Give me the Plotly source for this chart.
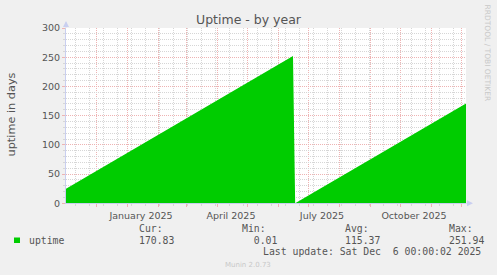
import plotly.graph_objects as go
import pandas as pd

# ---- data ----
dates = ["2024-11-01 00:00", "2025-06-16 00:00", "2025-06-17 00:00",
         "2025-06-18 04:00", "2025-12-06 00:00"]
uptime = [25.0, 251.94, None, 0.01, 170.83]

x_start = "2024-11-01 00:00"
x_end = "2025-12-06 00:00"

label_dates = ["2025-01-15", "2025-04-15", "2025-07-15", "2025-10-15"]
label_text = ["January 2025", "April 2025", "July 2025", "October 2025"]

month_starts = [d.strftime("%Y-%m-%d") for d in pd.date_range("2024-12-01", "2025-12-01", freq="MS")]
biweekly = [d.strftime("%Y-%m-%d") for d in pd.date_range("2024-11-10", "2025-12-06", freq="14D")]

stat_names = ["Cur:", "Min:", "Avg:", "Max:"]
stat_values = ["170.83", "  0.01", "115.37", "251.94"]
series_name = "uptime"
last_update = "Last update: Sat Dec  6 00:00:02 2025"

W, H = 497, 275
def px(x):
    return x / W
def py(y):
    return 1 - y / H

GREEN = "#00CC00"
TXT = "#555555"
RED_GRID = "#eeb3b3"
GRAY_GRID = "#d6d6d6"
AXIS = "#c9cff0"

fig = go.Figure()
fig.add_trace(go.Scatter(
    x=dates, y=uptime, mode="lines", fill="tozeroy",
    fillcolor=GREEN, line=dict(color=GREEN, width=0),
    connectgaps=False, showlegend=False, hoverinfo="skip"))

x_dom = [px(66), px(466)]
y_dom = [py(203.3), py(28)]

fig.update_layout(
    width=W, height=H,
    margin=dict(l=0, r=0, t=0, b=0, pad=0, autoexpand=False),
    paper_bgcolor="#F0F0F0", plot_bgcolor="#FFFFFF",
    showlegend=False,
    font=dict(family="DejaVu Sans", color=TXT),
    xaxis=dict(
        type="date", domain=x_dom, range=[x_start, x_end],
        tickmode="array", tickvals=label_dates, ticktext=label_text,
        ticks="", showgrid=False, zeroline=False, automargin=False,
        showline=True, linecolor=AXIS, linewidth=1,
        tickfont=dict(size=9.5, color=TXT, family="DejaVu Sans"),
        ticklabelstandoff=3,
        minor=dict(tickmode="array", tickvals=month_starts, showgrid=True,
                   gridcolor=RED_GRID, griddash="1px,1px", gridwidth=1,
                   ticks="outside", ticklen=3, tickcolor=RED_GRID),
    ),
    xaxis2=dict(
        type="date", domain=x_dom, range=[x_start, x_end], overlaying="x",
        anchor="y", side="bottom", automargin=False,
        tickmode="array", tickvals=biweekly, showticklabels=False,
        showgrid=True, gridcolor=GRAY_GRID, griddash="1px,1px", gridwidth=1,
        ticks="outside", ticklen=2, tickcolor=GRAY_GRID, zeroline=False,
        showline=False,
    ),
    yaxis=dict(
        domain=y_dom, range=[0, 300], tickmode="linear", tick0=0, dtick=50,
        showgrid=True, gridcolor=RED_GRID, griddash="1px,1px", gridwidth=1,
        ticks="outside", ticklen=3, tickcolor=RED_GRID, zeroline=False,
        showline=True, linecolor=AXIS, linewidth=1, automargin=False,
        tickfont=dict(size=9.5, color=TXT, family="DejaVu Sans"),
        minor=dict(dtick=10, tick0=0, showgrid=True, gridcolor=GRAY_GRID,
                   griddash="1px,1px", gridwidth=1,
                   ticks="outside", ticklen=2, tickcolor=GRAY_GRID),
    ),
)
# invisible trace on xaxis2 so its grid renders
fig.add_trace(go.Scatter(x=[x_start], y=[None], xaxis="x2", yaxis="y",
                         showlegend=False, hoverinfo="skip"))

ann = []
ann.append(dict(text="Uptime - by year", x=px(248.5), y=py(19.5), xref="paper", yref="paper",
                xanchor="center", yanchor="middle", showarrow=False,
                font=dict(size=12.5, color=TXT, family="DejaVu Sans")))
ann.append(dict(text="uptime in days", x=px(10.5), y=py(115), xref="paper", yref="paper",
                xanchor="center", yanchor="middle", showarrow=False, textangle=-90,
                font=dict(size=11.3, color=TXT, family="DejaVu Sans")))
ann.append(dict(text="RRDTOOL / TOBI OETIKER", x=px(487.5), y=py(53), xref="paper", yref="paper",
                xanchor="center", yanchor="middle", showarrow=False, textangle=90,
                font=dict(size=7.5, color="#c8c8c8", family="DejaVu Sans")))
ann.append(dict(text="Munin 2.0.73", x=px(248), y=py(264.5), xref="paper", yref="paper",
                xanchor="center", yanchor="middle", showarrow=False,
                font=dict(size=7, color="#c8c8c8", family="DejaVu Sans")))

MONO = dict(size=9.8, color=TXT, family="DejaVu Sans Mono")
col_x = [136.7, 240.0, 343.3, 447.3]
for cx, name, val in zip(col_x, stat_names, stat_values):
    ann.append(dict(text=name, x=px(cx), y=py(228), xref="paper", yref="paper",
                    xanchor="left", yanchor="middle", showarrow=False, font=MONO))
    ann.append(dict(text=val.replace(" ", "\u00a0"), x=px(cx), y=py(240), xref="paper", yref="paper",
                    xanchor="left", yanchor="middle", showarrow=False, font=MONO))
ann.append(dict(text=series_name, x=px(26.7), y=py(240), xref="paper", yref="paper",
                xanchor="left", yanchor="middle", showarrow=False, font=MONO))
ann.append(dict(text=last_update.replace(" ", "\u00a0"), x=px(482.5), y=py(251.5),
                xref="paper", yref="paper", xanchor="right", yanchor="middle",
                showarrow=False, font=MONO))
# axis arrows
ann.append(dict(text="", x=px(66), y=py(21), xref="paper", yref="paper",
                ax=0, ay=8, showarrow=True, arrowhead=2, arrowsize=1.2,
                arrowwidth=1, arrowcolor=AXIS))
ann.append(dict(text="", x=px(473), y=py(203.3), xref="paper", yref="paper",
                ax=-8, ay=0, showarrow=True, arrowhead=2, arrowsize=1.2,
                arrowwidth=1, arrowcolor=AXIS))
fig.update_layout(annotations=ann)

fig.add_shape(type="rect", xref="paper", yref="paper",
              x0=px(14), x1=px(20), y0=py(243), y1=py(237.5),
              fillcolor=GREEN, line=dict(width=0))

fig.write_html("out.html")
